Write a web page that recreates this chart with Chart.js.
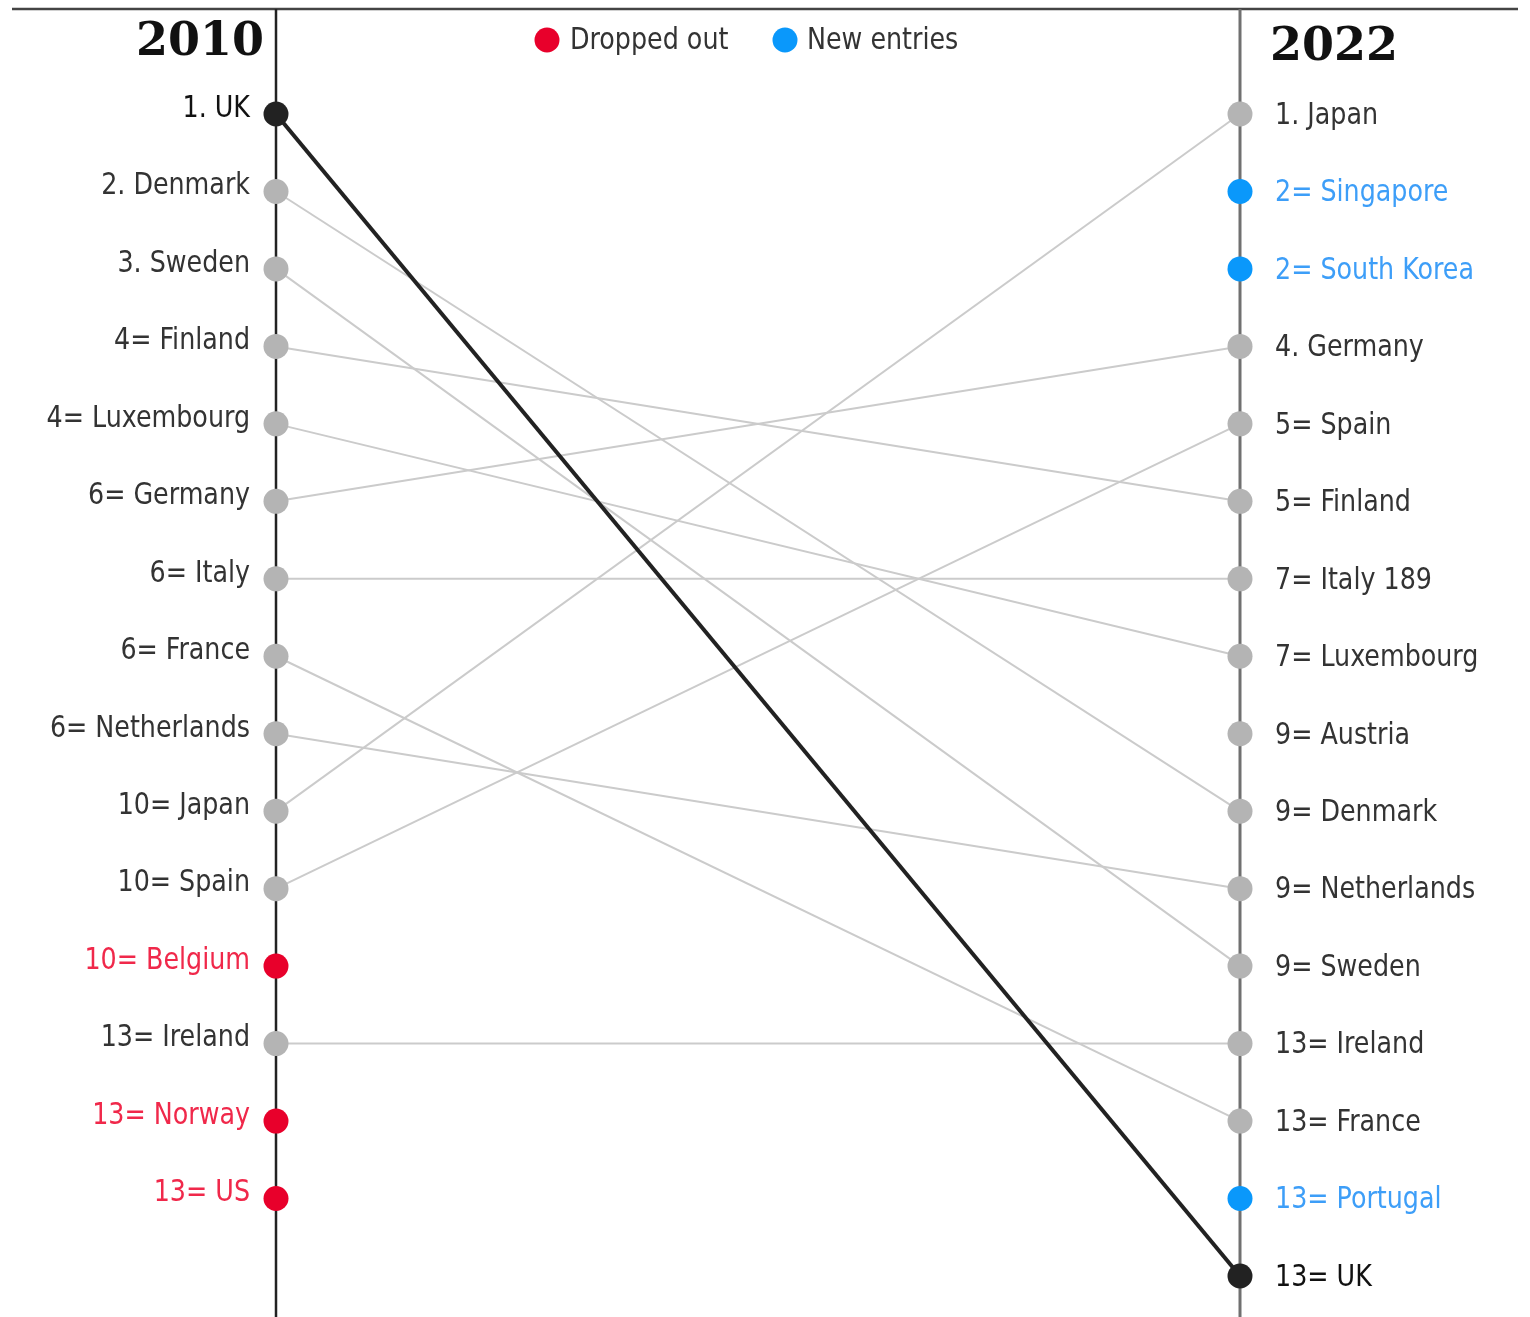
<!DOCTYPE html>
<html>
<head>
<meta charset="utf-8">
<script src="https://cdn.jsdelivr.net/npm/chart.js@4.4.0/dist/chart.umd.min.js"></script>
<style>
  body { margin: 0; background: #fff; }
  canvas { display: block; }
</style>
</head>
<body>
<canvas id="slopeChart" width="1530" height="1317"></canvas>
<script>
// 2010 ranking, top to bottom
const countries2010 = ['UK', 'Denmark', 'Sweden', 'Finland', 'Luxembourg', 'Germany', 'Italy', 'France',
  'Netherlands', 'Japan', 'Spain', 'Belgium', 'Ireland', 'Norway', 'US'];
const labels2010 = ['1. UK', '2. Denmark', '3. Sweden', '4= Finland', '4= Luxembourg', '6= Germany', '6= Italy',
  '6= France', '6= Netherlands', '10= Japan', '10= Spain', '10= Belgium', '13= Ireland', '13= Norway', '13= US'];

// 2022 ranking, top to bottom
const countries2022 = ['Japan', 'Singapore', 'South Korea', 'Germany', 'Spain', 'Finland', 'Italy', 'Luxembourg',
  'Austria', 'Denmark', 'Netherlands', 'Sweden', 'Ireland', 'France', 'Portugal', 'UK'];
const labels2022 = ['1. Japan', '2= Singapore', '2= South Korea', '4. Germany', '5= Spain', '5= Finland',
  '7= Italy 189', '7= Luxembourg', '9= Austria', '9= Denmark', '9= Netherlands', '9= Sweden', '13= Ireland',
  '13= France', '13= Portugal', '13= UK'];

const droppedOut = ['Belgium', 'Norway', 'US'];
const newEntries = ['Singapore', 'South Korea', 'Portugal'];
const highlight = 'UK';

const GREY_DOT = '#b4b4b4';
const GREY_LINE = '#cbcbcb';
const RED = '#e8002b';
const BLUE = '#0a98fb';
const DARK = '#222222';
const LABEL_FONT = '30px "Liberation Sans Narrow", "DejaVu Sans Condensed", "Noto Sans", sans-serif';
const TEXT_SQUEEZE = 0.94;

function dotColor(c) {
  if (c === highlight) return DARK;
  if (droppedOut.includes(c)) return RED;
  if (newEntries.includes(c)) return BLUE;
  return GREY_DOT;
}

// one dataset per country; slot = position in the list (1-based)
const allCountries = [...new Set([...countries2010, ...countries2022])];
const datasets = allCountries.map(function(c) {
  const pts = [];
  const i1 = countries2010.indexOf(c);
  const i2 = countries2022.indexOf(c);
  if (i1 >= 0) pts.push({ x: 0, y: i1 + 1 });
  if (i2 >= 0) pts.push({ x: 1, y: i2 + 1 });
  const isUK = c === highlight;
  return {
    label: c,
    data: pts,
    borderColor: isUK ? DARK : GREY_LINE,
    borderWidth: isUK ? 4 : 2,
    pointBackgroundColor: dotColor(c),
    pointBorderWidth: 0,
    pointRadius: 12.5,
    pointHoverRadius: 12.5,
    showLine: true,
    clip: false,
    order: isUK ? 0 : 1
  };
});

function textColor(c) {
  if (droppedOut.includes(c)) return '#f0284a';
  if (newEntries.includes(c)) return '#3d9ef8';
  if (c === highlight) return '#111111';
  return '#333333';
}

// slightly condensed text
function label(ctx, text, x, y, align) {
  ctx.save();
  ctx.translate(x, y);
  ctx.scale(TEXT_SQUEEZE, 1);
  ctx.textAlign = align;
  ctx.fillText(text, 0, 0);
  ctx.restore();
}

const framePlugin = {
  id: 'frame',
  beforeDatasetsDraw(chart) {
    const ctx = chart.ctx;
    const x0 = chart.scales.x.getPixelForValue(0);
    const x1 = chart.scales.x.getPixelForValue(1);
    ctx.save();
    // top rule
    ctx.strokeStyle = '#444';
    ctx.lineWidth = 2.5;
    ctx.beginPath();
    ctx.moveTo(12, 9);
    ctx.lineTo(1518, 9);
    ctx.stroke();
    // column axes
    ctx.strokeStyle = DARK;
    ctx.lineWidth = 2.5;
    ctx.beginPath();
    ctx.moveTo(x0, 9);
    ctx.lineTo(x0, 1317);
    ctx.stroke();
    ctx.strokeStyle = '#707070';
    ctx.lineWidth = 3;
    ctx.beginPath();
    ctx.moveTo(x1, 9);
    ctx.lineTo(x1, 1317);
    ctx.stroke();
    ctx.restore();
  },
  afterDraw(chart) {
    const ctx = chart.ctx;
    const xs = chart.scales.x, ys = chart.scales.y;
    const x0 = xs.getPixelForValue(0);
    const x1 = xs.getPixelForValue(1);
    ctx.save();
    ctx.textBaseline = 'middle';
    ctx.font = LABEL_FONT;
    countries2010.forEach(function(c, i) {
      ctx.fillStyle = textColor(c);
      label(ctx, labels2010[i], x0 - 26, ys.getPixelForValue(i + 1) - 5, 'right');
    });
    countries2022.forEach(function(c, i) {
      ctx.fillStyle = textColor(c);
      label(ctx, labels2022[i], x1 + 35, ys.getPixelForValue(i + 1) + 2, 'left');
    });

    // year headings
    ctx.fillStyle = '#111';
    ctx.font = 'bold 46px "DejaVu Serif", "Liberation Serif", serif';
    ctx.textAlign = 'right';
    ctx.fillText('2010', x0 - 12, 43);
    ctx.textAlign = 'left';
    ctx.fillText('2022', x1 + 30, 48);

    // key
    ctx.font = LABEL_FONT;
    ctx.fillStyle = RED;
    ctx.beginPath();
    ctx.arc(547, 40, 12.5, 0, Math.PI * 2);
    ctx.fill();
    ctx.fillStyle = BLUE;
    ctx.beginPath();
    ctx.arc(785, 40, 12.5, 0, Math.PI * 2);
    ctx.fill();
    ctx.fillStyle = '#333';
    label(ctx, 'Dropped out', 570, 41, 'left');
    label(ctx, 'New entries', 807, 41, 'left');
    ctx.restore();
  }
};

new Chart(document.getElementById('slopeChart'), {
  type: 'line',
  data: { datasets: datasets },
  options: {
    responsive: false,
    animation: false,
    layout: { padding: { left: 276, right: 290, top: 14, bottom: 14 } },
    scales: {
      x: { type: 'linear', min: 0, max: 1, display: false },
      y: { type: 'linear', min: -0.291, max: 16.349, reverse: true, display: false }
    },
    plugins: {
      legend: { display: false },
      tooltip: { enabled: false }
    }
  },
  plugins: [framePlugin]
});
</script>
</body>
</html>
